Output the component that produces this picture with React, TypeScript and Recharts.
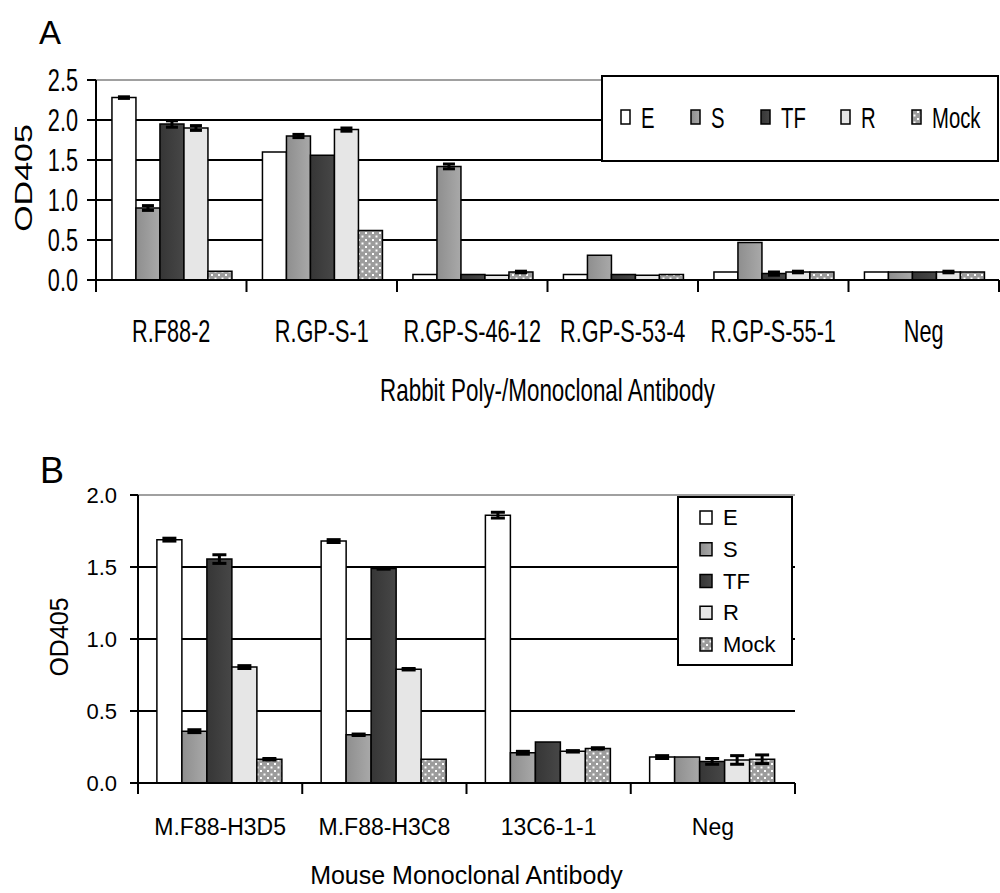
import React from 'react';
import { BarChart, Bar, XAxis, YAxis, CartesianGrid, ErrorBar, Legend, ReferenceLine } from 'recharts';

const FONT = '"Liberation Sans", Arial, Helvetica, sans-serif';

// ---------- Panel A data ----------
const catsA = ['R.F88-2', 'R.GP-S-1', 'R.GP-S-46-12', 'R.GP-S-53-4', 'R.GP-S-55-1', 'Neg'];
const eA = [2.28, 1.6, 0.07, 0.07, 0.1, 0.1];
const sA = [0.9, 1.8, 1.42, 0.31, 0.47, 0.1];
const tfA = [1.95, 1.56, 0.07, 0.07, 0.08, 0.1];
const rA = [1.9, 1.88, 0.06, 0.06, 0.1, 0.1];
const mockA = [0.11, 0.62, 0.1, 0.07, 0.1, 0.1];
const eErrA = [0.01, null, null, null, null, null];
const sErrA = [0.03, 0.02, 0.03, null, null, null];
const tfErrA = [0.04, null, null, null, 0.02, null];
const rErrA = [0.03, 0.02, null, null, 0.01, 0.01];
const mockErrA = [null, null, 0.01, null, null, null];
const yTicksA = [0, 0.5, 1, 1.5, 2, 2.5];
const xTitleA = 'Rabbit Poly-/Monoclonal Antibody';

// ---------- Panel B data ----------
const catsB = ['M.F88-H3D5', 'M.F88-H3C8', '13C6-1-1', 'Neg'];
const eB = [1.69, 1.68, 1.86, 0.18];
const sB = [0.36, 0.335, 0.21, 0.18];
const tfB = [1.555, 1.49, 0.285, 0.15];
const rB = [0.805, 0.79, 0.22, 0.16];
const mockB = [0.165, 0.165, 0.24, 0.165];
const eErrB = [0.01, 0.01, 0.02, 0.01];
const sErrB = [0.01, 0.005, 0.01, null];
const tfErrB = [0.03, 0.005, null, 0.02];
const rErrB = [0.01, 0.005, 0.005, 0.03];
const mockErrB = [0.005, null, 0.005, 0.03];
const yTicksB = [0, 0.5, 1, 1.5, 2];
const xTitleB = 'Mouse Monoclonal Antibody';

const yTitle = 'OD405';
const seriesKeys = ['E', 'S', 'TF', 'R', 'Mock'];

function buildRows(cats: string[], vals: number[][], errs: (number | null)[][]) {
  return cats.map((name, i) => {
    const row: any = { name };
    seriesKeys.forEach((k, j) => {
      row[k] = vals[j][i];
      row[k + '_err'] = errs[j][i];
    });
    return row;
  });
}

const rowsA = buildRows(catsA, [eA, sA, tfA, rA, mockA], [eErrA, sErrA, tfErrA, rErrA, mockErrA]);
const rowsB = buildRows(catsB, [eB, sB, tfB, rB, mockB], [eErrB, sErrB, tfErrB, rErrB, mockErrB]);

function fillFor(key: string, sfx: string) {
  switch (key) {
    case 'E': return '#ffffff';
    case 'S': return `url(#gS${sfx})`;
    case 'TF': return `url(#gTF${sfx})`;
    case 'R': return '#e6e6e6';
    default: return `url(#pM${sfx})`;
  }
}

function renderDefs(sfx: string) {
  return (
    <defs>
      <linearGradient id={`gS${sfx}`} x1="0" y1="0" x2="1" y2="0">
        <stop offset="0" stopColor="#8e8e8e" />
        <stop offset="1" stopColor="#a9a9a9" />
      </linearGradient>
      <linearGradient id={`gTF${sfx}`} x1="0" y1="0" x2="1" y2="0">
        <stop offset="0" stopColor="#363636" />
        <stop offset="1" stopColor="#474747" />
      </linearGradient>
      <pattern id={`pM${sfx}`} width="7" height="7" patternUnits="userSpaceOnUse">
        <rect width="7" height="7" fill="#9c9c9c" />
        <rect x="1" y="1" width="2" height="2" fill="#ffffff" />
        <rect x="4.5" y="4.5" width="2" height="2" fill="#ffffff" />
      </pattern>
    </defs>
  );
}

function orderedLegendItems(payload: any[]) {
  return seriesKeys.map((k) => {
    const found = (payload || []).find((p: any) => String(p.dataKey ?? p.value) === k);
    return { key: k, label: found ? String(found.value) : k };
  });
}

// ---------- Panel A custom pieces ----------
const SX = 0.7;

const XTickA = (props: any) => {
  const { x, y, payload, index } = props;
  const half = typeof payload?.offset === 'number' && payload.offset > 0 ? payload.offset : 903 / catsA.length / 2;
  const last = index === catsA.length - 1;
  return (
    <g>
      <line x1={x - half} x2={x - half} y1={y} y2={y + 12} stroke="#000" strokeWidth={2} />
      {last && <line x1={x + half} x2={x + half} y1={y} y2={y + 12} stroke="#000" strokeWidth={2} />}
      <text transform={`translate(${x},${y + 62}) scale(${SX},1)`} textAnchor="middle" fontSize={31} fontFamily={FONT} fill="#000">
        {payload.value}
      </text>
    </g>
  );
};

const YTickA = (props: any) => {
  const { x, y, payload } = props;
  return (
    <text transform={`translate(${x},${y + 11}) scale(${SX},1)`} textAnchor="end" fontSize={31} fontFamily={FONT} fill="#000">
      {Number(payload.value).toFixed(1)}
    </text>
  );
};

const XTitleA = (props: any) => {
  const vb = props.viewBox || { x: 96, y: 280, width: 903, height: 140 };
  const cx = vb.x + vb.width / 2;
  return (
    <text transform={`translate(${cx},${vb.y + 121}) scale(${SX},1)`} textAnchor="middle" fontSize={32} fontFamily={FONT} fill="#000">
      {xTitleA}
    </text>
  );
};

const YTitleA = (props: any) => {
  const vb = props.viewBox || { x: 0, y: 80, width: 96, height: 200 };
  const cy = vb.y + vb.height / 2 - 2;
  return (
    <text transform={`translate(32,${cy}) scale(${SX},1) rotate(-90)`} textAnchor="middle" fontSize={34} fontFamily={FONT} fill="#000">
      {yTitle}
    </text>
  );
};

const legendXA = [20, 90, 160, 240, 311];
const LegendA = (props: any) => {
  const items = orderedLegendItems(props.payload);
  return (
    <svg width={398} height={87} style={{ display: 'block' }}>
      {renderDefs('LA')}
      <rect x={1} y={1} width={396} height={85} fill="#fff" stroke="#000" strokeWidth={2} />
      {items.map((it, i) => {
        const sx = legendXA[i];
        return (
          <g key={it.key}>
            <rect x={sx} y={35} width={9} height={14} fill={fillFor(it.key, 'LA')} stroke="#000" strokeWidth={1.5} />
            <text transform={`translate(${sx + 20},${53}) scale(${SX},1)`} fontSize={29} fontFamily={FONT} fill="#000">
              {it.label}
            </text>
          </g>
        );
      })}
    </svg>
  );
};

// ---------- Panel B custom pieces ----------
const XTickB = (props: any) => {
  const { x, y, payload, index } = props;
  const half = typeof payload?.offset === 'number' && payload.offset > 0 ? payload.offset : 657 / catsB.length / 2;
  const last = index === catsB.length - 1;
  return (
    <g>
      <line x1={x - half} x2={x - half} y1={y} y2={y + 11} stroke="#000" strokeWidth={2} />
      {last && <line x1={x + half} x2={x + half} y1={y} y2={y + 11} stroke="#000" strokeWidth={2} />}
      <text x={x} y={y + 52} textAnchor="middle" fontSize={23} fontFamily={FONT} fill="#000">
        {payload.value}
      </text>
    </g>
  );
};

const XTitleB = (props: any) => {
  const vb = props.viewBox || { x: 138, y: 343, width: 657, height: 110 };
  const cx = vb.x + vb.width / 2;
  return (
    <text x={cx} y={vb.y + 101} textAnchor="middle" fontSize={25} fontFamily={FONT} fill="#000">
      {xTitleB}
    </text>
  );
};

const YTitleB = (props: any) => {
  const vb = props.viewBox || { x: 0, y: 55, width: 138, height: 288 };
  const cy = vb.y + vb.height / 2 - 2;
  return (
    <text transform={`translate(68,${cy}) rotate(-90)`} textAnchor="middle" fontSize={25} fontFamily={FONT} fill="#000">
      {yTitle}
    </text>
  );
};

const LegendB = (props: any) => {
  const items = orderedLegendItems(props.payload);
  return (
    <svg width={116} height={170} style={{ display: 'block' }}>
      {renderDefs('LB')}
      <rect x={1} y={1} width={114} height={168} fill="#fff" stroke="#000" strokeWidth={2} />
      {items.map((it, i) => {
        const cy = 21 + i * 31.75;
        return (
          <g key={it.key}>
            <rect x={23} y={cy - 6} width={12} height={13} fill={fillFor(it.key, 'LB')} stroke="#000" strokeWidth={1.5} />
            <text x={46} y={cy + 8} fontSize={22} fontFamily={FONT} fill="#000">
              {it.label}
            </text>
          </g>
        );
      })}
    </svg>
  );
};

function renderBars(sfx: string, capHalf: number) {
  return seriesKeys.map((k) => (
    <Bar key={k} dataKey={k} name={k} fill={fillFor(k, sfx)} stroke="#000" strokeWidth={1.5} isAnimationActive={false}>
      <ErrorBar dataKey={k + '_err'} width={capHalf} stroke="#000" strokeWidth={3} direction="y" />
    </Bar>
  ));
}

export default function App() {
  return (
    <div style={{ position: 'absolute', left: 0, top: 0, width: 1000, height: 893, background: '#fff', fontFamily: FONT }}>
      <svg width={1000} height={893} style={{ position: 'absolute', left: 0, top: 0 }}>
        <text x={39} y={44} fontSize={33} fontFamily={FONT} fill="#000">A</text>
        <text x={40} y={483} fontSize={36} fontFamily={FONT} fill="#000">B</text>
      </svg>

      <div style={{ position: 'absolute', left: 0, top: 0 }}>
        <BarChart
          width={1000}
          height={420}
          data={rowsA}
          margin={{ top: 80, right: 1, left: 0, bottom: 0 }}
          barCategoryGap="10.6%"
          barGap={0}
        >
          {renderDefs('A')}
          <CartesianGrid vertical={false} horizontalValues={[0.5, 1, 1.5, 2]} stroke="#000" strokeWidth={2} />
          <XAxis
            dataKey="name"
            height={140}
            interval={0}
            tickLine={false}
            tickSize={0}
            tickMargin={0}
            axisLine={{ stroke: '#000', strokeWidth: 2 }}
            tick={<XTickA />}
            label={<XTitleA />}
          />
          <YAxis
            width={96}
            domain={[0, 2.5]}
            ticks={yTicksA}
            tickSize={9}
            tickMargin={9}
            axisLine={{ stroke: '#000', strokeWidth: 2 }}
            tickLine={{ stroke: '#000', strokeWidth: 2 }}
            tick={<YTickA />}
            label={<YTitleA />}
          />
          <ReferenceLine y={2.5} stroke="#a0a0a0" strokeWidth={2} />
          <Legend
            layout="horizontal"
            verticalAlign="middle"
            align="center"
            width={398}
            height={87}
            wrapperStyle={{ left: 601, top: 75, width: 398, height: 87 }}
            content={<LegendA />}
          />
          {renderBars('A', 6)}
        </BarChart>
      </div>

      <div style={{ position: 'absolute', left: 0, top: 440 }}>
        <BarChart
          width={1000}
          height={453}
          data={rowsB}
          margin={{ top: 55, right: 205, left: 0, bottom: 0 }}
          barCategoryGap="11.5%"
          barGap={0}
        >
          {renderDefs('B')}
          <CartesianGrid vertical={false} horizontalValues={[0.5, 1, 1.5]} stroke="#000" strokeWidth={2} />
          <XAxis
            dataKey="name"
            height={110}
            interval={0}
            tickLine={false}
            tickSize={0}
            tickMargin={0}
            axisLine={{ stroke: '#000', strokeWidth: 2 }}
            tick={<XTickB />}
            label={<XTitleB />}
          />
          <YAxis
            width={138}
            domain={[0, 2]}
            ticks={yTicksB}
            tickSize={8}
            tickMargin={13}
            tickFormatter={(v: number) => v.toFixed(1)}
            axisLine={{ stroke: '#000', strokeWidth: 2 }}
            tickLine={{ stroke: '#000', strokeWidth: 2 }}
            tick={{ fontSize: 22, fill: '#000', fontFamily: FONT }}
            label={<YTitleB />}
          />
          <YAxis
            yAxisId="r"
            orientation="right"
            width={0}
            domain={[0, 2]}
            tick={false}
            tickLine={false}
            axisLine={{ stroke: '#a0a0a0', strokeWidth: 2 }}
          />
          <ReferenceLine y={2} stroke="#a0a0a0" strokeWidth={2} />
          <Legend
            layout="horizontal"
            verticalAlign="middle"
            align="center"
            width={116}
            height={170}
            wrapperStyle={{ left: 677, top: 56, width: 116, height: 170 }}
            content={<LegendB />}
          />
          {renderBars('B', 7)}
        </BarChart>
      </div>
    </div>
  );
}
